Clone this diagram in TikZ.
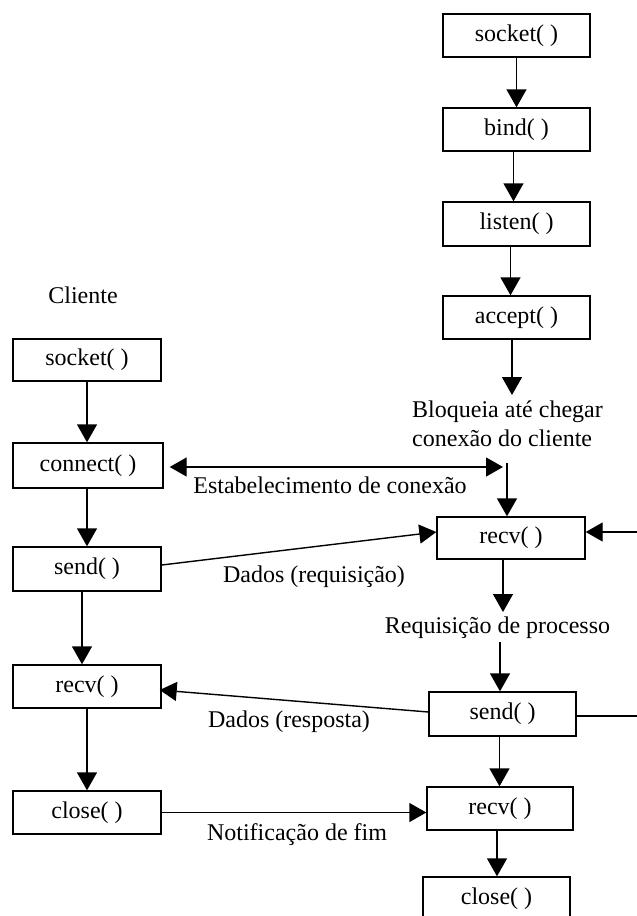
\documentclass[tikz,border=0pt]{standalone}
\usepackage{fontspec}
\setmainfont{Liberation Serif}
\usetikzlibrary{arrows.meta}

\begin{document}
\begin{tikzpicture}[x=1pt,y=-1pt,
  every node/.style={font=\fontsize{24}{29}\selectfont},
  fn/.style={draw, line width=1.4pt, rectangle, minimum width=147pt,
             minimum height=43pt, inner sep=0pt},
  lbl/.style={inner sep=0pt},
  arr/.style={line width=1.4pt, -{Triangle[width=20pt,length=18pt]}},
  link/.style={line width=1.4pt},
  darr/.style={line width=1.4pt, {Triangle[width=19pt,length=17pt]}-{Triangle[width=19pt,length=17pt]}},
  harr/.style={line width=1.4pt, -{Triangle[width=19pt,length=17pt]}}]

\useasboundingbox (0,0) rectangle (637,916);
\clip (0,0) rectangle (637,916);
\fill[white] (0,0) rectangle (637,916);

% server side
\node[fn] (ssocket) at (516.5,35.5) {socket( )};
\node[fn] (sbind)   at (516.5,129.5) {bind( )};
\node[fn, minimum height=44pt] (slisten) at (516.5,224) {listen( )};
\node[fn] (saccept) at (516.5,317.5) {accept( )};
\node[fn, minimum width=148pt, minimum height=42pt] (srecv) at (511,538) {recv( )};
\node[fn, minimum height=44pt] (ssend) at (502.5,714) {send( )};
\node[fn, minimum width=146pt] (srecvb) at (500,808.5) {recv( )};
\node[fn] (sclose) at (496.5,898.5) {close( )};

% client side
\node[lbl] (cliente) at (83,295) {Cliente};
\node[fn, minimum width=148pt, minimum height=42pt] (csocket) at (87,360) {socket( )};
\node[fn, minimum width=150pt, minimum height=45pt] (cconnect) at (88,465.5) {connect( )};
\node[fn, minimum width=148pt, minimum height=44pt] (csend) at (87,569) {send( )};
\node[fn, minimum width=148pt] (crecv) at (87,686.5) {recv( )};
\node[fn, minimum width=148pt] (cclose) at (87,812.5) {close( )};

% labels
\node[lbl, anchor=west, align=left] (bloq) at (412,424)
  {Bloqueia até chegar\\conexão do cliente};
\node[lbl] (estab) at (330,485) {Estabelecimento de conexão};
\node[lbl] (dreq) at (314,577) {Dados (requisição)};
\node[lbl] (reqproc) at (497.5,628) {Requisição de processo};
\node[lbl] (dresp) at (289,722) {Dados (resposta)};
\node[lbl] (notif) at (297,835) {Notificação de fim};

% auxiliary points
\coordinate (blockin)  at (512,395);
\coordinate (connin)   at (507,463);
\coordinate (connend)  at (503,467);
\coordinate (procin)   at (503,612);
\coordinate (procout)  at (500,642);
\coordinate (loopout)  at (650,716);
\coordinate (loopin)   at (650,532);

% server flow
\draw[arr] (ssocket.south) -- (ssocket.south |- sbind.north);
\draw[arr] ([xshift=-3pt]sbind.south) -- ([xshift=-3pt]sbind.south |- slisten.north);
\draw[arr] ([xshift=-6pt]slisten.south) -- ([xshift=-6pt]slisten.south |- saccept.north);
\draw[arr] (saccept.south -| blockin) -- (blockin);
\draw[arr] (connin) -- (connin |- srecv.north);
\draw[arr] (srecv.south -| procin) -- (procin);
\draw[arr] (procout) -- (procout |- ssend.north);
\draw[arr] ([xshift=-3pt]ssend.south) -- ([xshift=-3pt]ssend.south |- srecvb.north);
\draw[arr] ([xshift=-3pt]srecvb.south) -- ([xshift=-3pt]srecvb.south |- sclose.north);

% server loop back to recv
\draw[link] (ssend.east |- loopout) -- (loopout) -- (loopin);
\draw[harr] (loopin) -- (srecv.east |- loopin);

% client flow
\draw[arr] (csocket.south) -- (csocket.south |- cconnect.north);
\draw[arr] (cconnect.south -| csocket.south) -- (csend.north -| csocket.south);
\draw[arr] ([xshift=-5pt]csend.south) -- ([xshift=-5pt]csend.south |- crecv.north);
\draw[arr] (crecv.south) -- (cclose.north);

% exchanges between client and server
\draw[darr] ([xshift=6pt]cconnect.east |- connend) -- (connend);
\draw[harr] ([yshift=4pt]csend.east) -- (srecv.west |- 0,532);
\draw[harr] ([yshift=2pt]ssend.west) -- ([xshift=-2pt]crecv.east |- 0,690);
\draw[harr] (cclose.east) -- (srecvb.west |- cclose.east);
\end{tikzpicture}
\end{document}
